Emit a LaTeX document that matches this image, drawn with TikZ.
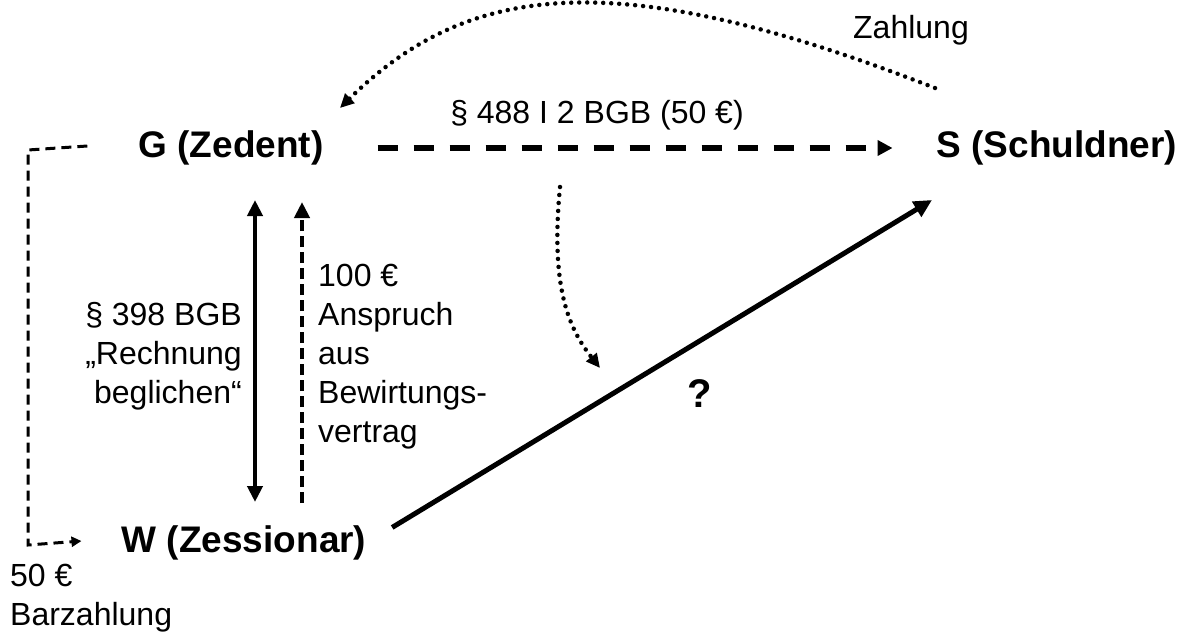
\documentclass[tikz,border=0pt]{standalone}
\usepackage{fontspec}
\setmainfont{Liberation Sans}
\usetikzlibrary{arrows.meta}
\begin{document}
\begin{tikzpicture}[x=1pt,y=-1pt,
  big/.style={font=\fontsize{37}{42}\selectfont\bfseries, inner sep=0pt},
  txt/.style={font=\fontsize{32}{39}\selectfont, inner sep=0pt},
  bigtip/.style={-{Triangle[length=15pt,width=15pt]}},
  smalltip/.style={-{Triangle[length=14pt,width=13pt]}},
  dashedline/.style={line width=6pt, dash pattern=on 20pt off 16pt},
  dottedline/.style={line width=4.5pt, line cap=round, dash pattern=on 0pt off 8pt},
  bracketline/.style={line width=3pt, dash pattern=on 10pt off 6pt},
  solidline/.style={line width=4.5pt}
]
\useasboundingbox (0,0) rectangle (1181,635);

% main nodes
\node[big] (G) at (231,148) {G (Zedent)};
\node[big] (S) at (1057,148) {S (Schuldner)};
\node[big] (W) at (244,543) {W (Zessionar)};

% labels
\node[txt] (zahl) at (911,30) {Zahlung};
\node[txt] (p488) at (597,115) {§ 488 I 2 BGB (50 €)};
\node[txt, align=right, anchor=east] (p398) at (242,356) {§ 398 BGB\\„Rechnung\\beglichen“};
\node[txt, align=left, anchor=west] (anspr) at (318,357) {100 €\\Anspruch\\aus\\Bewirtungs-\\vertrag};
\node[txt, align=left, anchor=west] (bar) at (10,598) {50 €\\Barzahlung};
\node[font=\fontsize{40}{44}\selectfont\bfseries, inner sep=0pt] (q) at (700,394) {?};

% coordinates for free ends
\coordinate (zs) at (935,88);
\coordinate (ze) at (340,108);
\coordinate (dvt) at (255,200);
\coordinate (dvb) at (255,502);
\coordinate (avt) at (302,202);
\coordinate (avb) at (302,503);
\coordinate (ds) at (560,187);
\coordinate (de) at (600,368);
\coordinate (sw) at (932,200);

% G -> S dashed
\draw[dashedline, bigtip, shorten <=54pt, shorten >=44pt] (G.east) -- (S.west);

% Zahlung dotted curve S -> G
\draw[dottedline, smalltip] (zs) .. controls (620,-35) and (470,-20) .. (ze);

% bracket G -> W
\draw[bracketline, -{Triangle[length=10pt,width=10pt]}] ([xshift=-51pt,yshift=2pt]G.west) -- (28,150) -- (28,545) -- ([xshift=-40pt,yshift=2pt]W.west);

% vertical double arrow
\draw[solidline, {Triangle[length=16pt,width=15pt]}-{Triangle[length=16pt,width=15pt]}] (dvt) -- (dvb);

% vertical dashed arrow up
\draw[line width=4pt, dash pattern=on 11pt off 5pt, -{Triangle[length=16pt,width=15pt]}] (avb) -- (avt);

% dotted curved arrow
\draw[dottedline, smalltip] (ds) .. controls (550,290) and (570,330) .. (de);

% diagonal W -> S
\draw[line width=5pt, -{Triangle[length=18pt,width=17pt]}, shorten <=30pt] (W.east) -- (sw);
\end{tikzpicture}
\end{document}
